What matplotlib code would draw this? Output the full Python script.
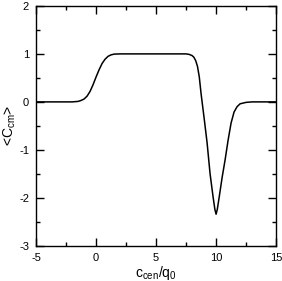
import matplotlib
matplotlib.use('Agg')
import matplotlib.pyplot as plt
from matplotlib.ticker import MultipleLocator

plt.rcParams['font.family'] = 'Liberation Sans'
plt.rcParams['mathtext.default'] = 'regular'
plt.rcParams['axes.unicode_minus'] = False

# values
c_cen = [-5, -2, -1.5, -1.25, -1, -0.75, -0.5, -0.25, 0, 0.25, 0.5, 0.75, 1, 1.25, 1.5, 2,
         7.5, 7.75, 8.0, 8.15, 8.3, 8.45, 8.6, 8.75, 9.0, 9.25, 9.5, 9.75, 9.9, 10.0, 10.1, 10.25,
         10.5, 10.75, 11.0, 11.25, 11.5, 11.75, 12.0, 12.5, 13, 15]
c_cm = [0, 0, 0.01, 0.03, 0.06, 0.12, 0.22, 0.36, 0.52, 0.67, 0.80, 0.89, 0.95, 0.98, 0.995, 1,
        1, 0.99, 0.965, 0.93, 0.86, 0.74, 0.52, 0.17, -0.33, -0.85, -1.5, -1.98, -2.24, -2.34, -2.24, -2.0,
        -1.58, -1.21, -0.8, -0.44, -0.21, -0.1, -0.04, -0.01, 0, 0]

fig = plt.figure(figsize=(2.82, 2.81), dpi=100)
ax = fig.add_axes([0.128, 0.125, 0.851, 0.854])

ax.plot(c_cen, c_cm, color='black', lw=1.1)

ax.set_xlim(-5, 15)
ax.set_ylim(-3, 2)
ax.xaxis.set_major_locator(MultipleLocator(5))
ax.xaxis.set_minor_locator(MultipleLocator(2.5))
ax.yaxis.set_major_locator(MultipleLocator(1))
ax.yaxis.set_minor_locator(MultipleLocator(0.5))
ax.tick_params(which='both', direction='in', top=True, right=True, labelsize=8, width=1)
ax.tick_params(which='major', length=6, pad=5)
ax.tick_params(which='minor', length=3)
for s in ax.spines.values():
    s.set_linewidth(1)

ax.set_xlabel(r'c$_{cen}$/q$_0$', fontsize=10, labelpad=1)
ax.set_ylabel(r'<C$_{cm}$>', fontsize=10, labelpad=1)

plt.savefig('out.png', dpi=100)
